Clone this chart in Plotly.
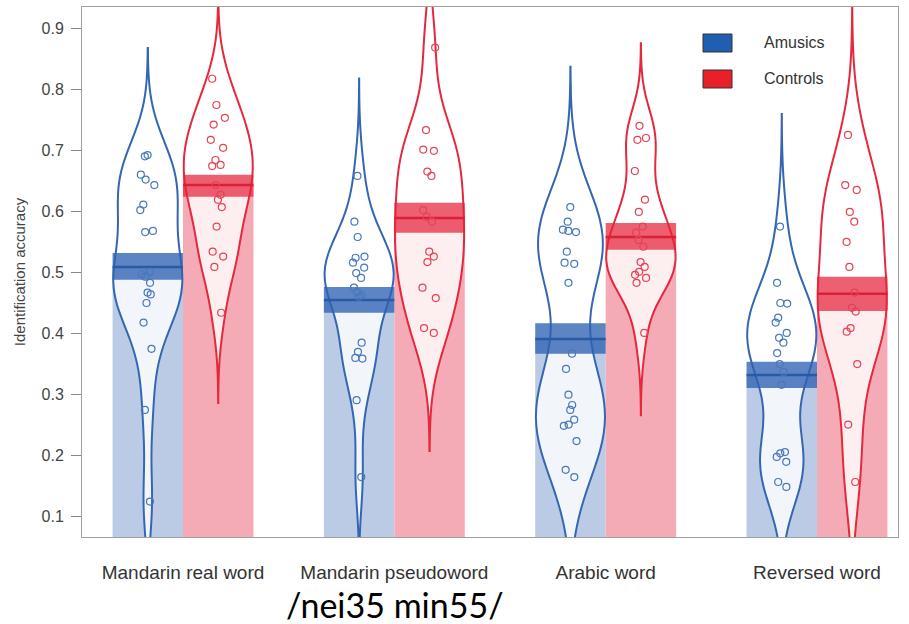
import numpy as np
import plotly.graph_objects as go

categories = ["Mandarin real word", "Mandarin pseudoword", "Arabic word", "Reversed word"]
groups = ["Amusics", "Controls"]

amusics_points = [
    [0.692, 0.690, 0.660, 0.652, 0.643, 0.611, 0.602, 0.568, 0.566, 0.501, 0.497,
     0.493, 0.483, 0.467, 0.464, 0.450, 0.418, 0.375, 0.275, 0.125],
    [0.658, 0.583, 0.558, 0.526, 0.524, 0.516, 0.508, 0.499, 0.491, 0.475, 0.468,
     0.463, 0.460, 0.385, 0.370, 0.360, 0.359, 0.291, 0.165],
    [0.607, 0.583, 0.570, 0.568, 0.566, 0.534, 0.516, 0.514, 0.483, 0.367, 0.342,
     0.300, 0.283, 0.275, 0.259, 0.251, 0.249, 0.224, 0.177, 0.165],
    [0.575, 0.483, 0.450, 0.449, 0.426, 0.418, 0.401, 0.393, 0.385, 0.368, 0.350,
     0.337, 0.316, 0.206, 0.204, 0.198, 0.190, 0.157, 0.149],
]
controls_points = [
    [0.817, 0.774, 0.753, 0.742, 0.717, 0.704, 0.684, 0.676, 0.674, 0.643, 0.627,
     0.619, 0.607, 0.575, 0.534, 0.526, 0.509, 0.434],
    [0.868, 0.733, 0.701, 0.699, 0.665, 0.658, 0.602, 0.591, 0.583, 0.534, 0.526,
     0.517, 0.475, 0.458, 0.409, 0.401],
    [0.740, 0.720, 0.717, 0.666, 0.619, 0.599, 0.575, 0.565, 0.553, 0.542, 0.517,
     0.509, 0.501, 0.496, 0.491, 0.483, 0.401],
    [0.725, 0.643, 0.635, 0.599, 0.583, 0.550, 0.509, 0.467, 0.442, 0.436, 0.409,
     0.403, 0.350, 0.251, 0.157],
]

amusics_mean = [0.509, 0.455, 0.391, 0.332]
controls_mean = [0.643, 0.589, 0.558, 0.465]
amusics_lo = [0.488, 0.434, 0.367, 0.311]
amusics_hi = [0.532, 0.476, 0.417, 0.354]
controls_lo = [0.624, 0.565, 0.537, 0.437]
controls_hi = [0.660, 0.614, 0.581, 0.493]

y_ticks = [0.1, 0.2, 0.3, 0.4, 0.5, 0.6, 0.7, 0.8, 0.9]

# ---- styles ----
STY = {
    "Amusics": dict(line="#3466b2", bar="#bccbe5", band="rgba(48,98,178,0.78)",
                    mean="#2a5aa6", pt="#4a78bd", leg="#1f5eb0"),
    "Controls": dict(line="#e6283c", bar="#f5abb6", band="rgba(230,35,60,0.72)",
                     mean="#dc1e36", pt="#e44356", leg="#e8202c"),
}
BW = 1.0


def nrd0(v):
    v = np.asarray(v, dtype=float)
    sd = v.std(ddof=1)
    q75, q25 = np.percentile(v, [75, 25])
    lo = min(sd, (q75 - q25) / 1.34)
    return 0.9 * lo * len(v) ** -0.2


data = {
    "Amusics": (amusics_points, amusics_mean, amusics_lo, amusics_hi, 0),
    "Controls": (controls_points, controls_mean, controls_lo, controls_hi, 1),
}


def pos_of(i, off):
    return 3 * i + 1 + off


fig = go.Figure()

# bars
for g in groups:
    pts, mean, lo, hi, off = data[g]
    fig.add_trace(go.Bar(
        x=[pos_of(i, off) for i in range(len(categories))], y=mean, width=BW,
        marker=dict(color=STY[g]["bar"], line=dict(width=0)),
        showlegend=False, hoverinfo="skip"))

# beans
for g in groups:
    pts, mean, lo, hi, off = data[g]
    for i, vals in enumerate(pts):
        bw = nrd0(vals)
        fig.add_trace(go.Violin(
            y=vals, x0=pos_of(i, off), width=0.98, bandwidth=bw,
            spanmode="manual", span=[min(vals) - 3 * bw, max(vals) + 3 * bw],
            points=False, fillcolor="rgba(255,255,255,0.8)",
            line=dict(color=STY[g]["line"], width=2),
            showlegend=False, hoverinfo="skip"))

# inference bands
for g in groups:
    pts, mean, lo, hi, off = data[g]
    for i in range(len(categories)):
        fig.add_trace(go.Box(
            x=[pos_of(i, off)], q1=[lo[i]], median=[mean[i]], q3=[hi[i]],
            lowerfence=[lo[i]], upperfence=[hi[i]], orientation="v", width=BW,
            fillcolor=STY[g]["band"], line=dict(width=0),
            showlegend=False, hoverinfo="skip"))

# mean lines
for g in groups:
    pts, mean, lo, hi, off = data[g]
    for i in range(len(categories)):
        m = mean[i]
        fig.add_trace(go.Box(
            x=[pos_of(i, off)], q1=[m], median=[m], q3=[m],
            lowerfence=[m], upperfence=[m], orientation="v", width=BW,
            fillcolor="rgba(0,0,0,0)", line=dict(width=2.5, color=STY[g]["mean"]),
            showlegend=False, hoverinfo="skip"))

# points
for g in groups:
    pts, mean, lo, hi, off = data[g]
    for i, vals in enumerate(pts):
        fig.add_trace(go.Box(
            y=vals, x0=pos_of(i, off), width=BW, boxpoints="all", jitter=0.25,
            pointpos=0, fillcolor="rgba(0,0,0,0)", line=dict(width=0, color=STY[g]["pt"]),
            marker=dict(symbol="circle-open", size=7, color=STY[g]["pt"],
                        line=dict(width=1.2)),
            showlegend=False, hoverinfo="skip"))

# legend (drawn)
L, R, T, B = 82, 11, 7, 87
W, H = 909 - L - R, 624 - T - B


def px(x):
    return (x - L) / W


def py(y):
    return (624 - B - y) / H


shapes = []
annots = []
for k, g in enumerate(groups):
    y_top = 34 + 36 * k
    shapes.append(dict(type="rect", xref="paper", yref="paper",
                       x0=px(703), x1=px(732), y0=py(y_top + 18), y1=py(y_top),
                       fillcolor=STY[g]["leg"], line=dict(color="#333", width=1)))
    annots.append(dict(text=g, xref="paper", yref="paper", x=px(762), y=py(y_top + 9),
                       xanchor="left", yanchor="middle", showarrow=False,
                       font=dict(size=16, color="#333", family="Liberation Sans")))

annots.append(dict(text="/nei35 min55/", xref="paper", yref="paper",
                   x=px(395), y=py(604), xanchor="center", yanchor="middle",
                   showarrow=False, font=dict(size=34, color="#000", family="Lato")))

fig.update_layout(
    width=909, height=624,
    margin=dict(l=L, r=R, t=T, b=B),
    paper_bgcolor="white", plot_bgcolor="white",
    barmode="overlay", violinmode="overlay", boxmode="overlay",
    font=dict(family="Liberation Sans", color="#444"),
    shapes=shapes, annotations=annots,
    showlegend=False,
)
fig.update_xaxes(
    range=[0.066, 11.65], showgrid=False, zeroline=False, automargin=False,
    showline=True, mirror=True, linecolor="#a0a0a0", linewidth=1,
    tickmode="array", tickvals=[3 * i + 1.5 for i in range(len(categories))],
    ticktext=categories, ticks="", ticklabelstandoff=18,
    tickfont=dict(size=19, color="#333"),
)
fig.update_yaxes(
    range=[0.067, 0.9344], showgrid=False, zeroline=False, automargin=False,
    showline=True, mirror=True, linecolor="#a0a0a0", linewidth=1,
    tickmode="array", tickvals=y_ticks, ticktext=[f"{v:.1f}" for v in y_ticks],
    ticks="outside", ticklen=10, tickcolor="#888", ticklabelstandoff=4,
    tickfont=dict(size=16, color="#444"),
    title=dict(text="Identification accuracy", font=dict(size=15, color="#444"), standoff=12),
)

fig.write_html("out.html", config={"displayModeBar": False},
               post_script="document.body.style.margin='0';")
